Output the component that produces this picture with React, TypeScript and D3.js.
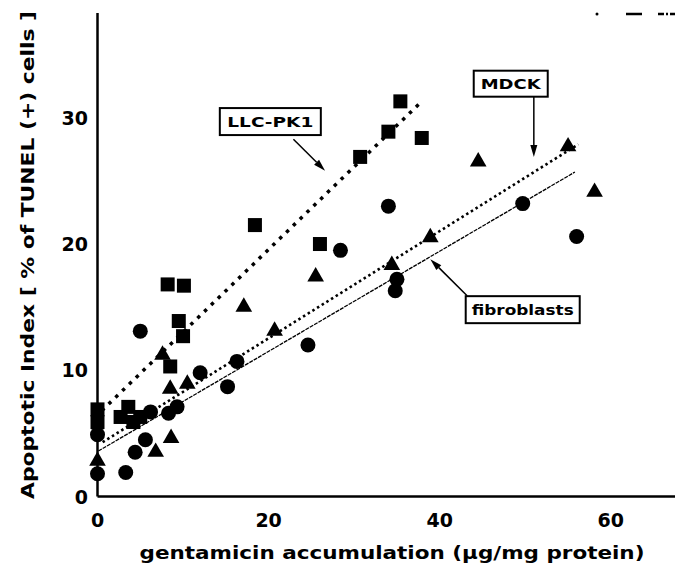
import React from "react";
import * as d3 from "d3";

// LLC-PK1 (squares)
const llcX = [0, 0, 2.7, 3.6, 5.0, 4.2, 8.5, 9.5, 10.0, 8.2, 10.1, 18.4, 26.0, 30.7, 34.0, 35.4, 37.9];
const llcY = [6.9, 5.9, 6.3, 7.1, 6.3, 5.9, 10.3, 13.9, 12.7, 16.8, 16.7, 21.5, 20.0, 26.9, 28.9, 31.3, 28.4];
// fibroblasts (circles)
const fibX = [0, 0, 3.3, 4.4, 5.6, 5.0, 6.2, 8.3, 9.3, 12.0, 15.2, 16.3, 24.6, 28.4, 34.0, 35.0, 34.8, 49.7, 56.0];
const fibY = [1.8, 4.9, 1.9, 3.5, 4.5, 13.1, 6.7, 6.6, 7.1, 9.8, 8.7, 10.7, 12.0, 19.5, 23.0, 17.2, 16.3, 23.2, 20.6];
// MDCK (triangles)
const mdckX = [0, 6.8, 8.6, 8.5, 10.5, 7.6, 17.1, 20.7, 25.5, 34.4, 38.9, 44.5, 55.0, 58.1];
const mdckY = [2.9, 3.6, 4.7, 8.6, 9.0, 11.3, 15.1, 13.2, 17.5, 18.4, 20.6, 26.6, 27.8, 24.2];

// regression lines [x0, y0, x1, y1]
const llcFit = [0.5, 6.8, 37.6, 31.1];
const mdckFit = [0.6, 4.3, 56.2, 27.9];
const fibFit = [0.1, 3.6, 55.8, 25.7];

const xTicks = [0, 20, 40, 60];
const yTicks = [0, 10, 20, 30];

const W = 675;
const H = 571;
const x = d3.scaleLinear().domain([0, 67.5]).range([97.5, 675]);
const y = d3.scaleLinear().domain([0, 38.3]).range([496.5, 13]);

const FONT = "'DejaVu Sans', sans-serif";

function Label({ cx, cy, w, h, text, tl }: { cx: number; cy: number; w: number; h: number; text: string; tl: number }) {
  const px = x(cx);
  const py = y(cy);
  return (
    <g>
      <rect x={px - w / 2} y={py - h / 2} width={w} height={h} fill="white" stroke="black" strokeWidth={2} />
      <text x={px} y={py + 5} textAnchor="middle" fontFamily={FONT} fontWeight="bold" fontSize={14} textLength={tl} lengthAdjust="spacingAndGlyphs">
        {text}
      </text>
    </g>
  );
}

function Arrow({ a, b }: { a: number[]; b: number[] }) {
  const x0 = x(a[0]), y0 = y(a[1]), x1 = x(b[0]), y1 = y(b[1]);
  const ang = Math.atan2(y1 - y0, x1 - x0);
  const L = 12, Wd = 3.5;
  const bx = x1 - L * Math.cos(ang), by = y1 - L * Math.sin(ang);
  const nx = -Math.sin(ang) * Wd, ny = Math.cos(ang) * Wd;
  return (
    <g>
      <line x1={x0} y1={y0} x2={bx} y2={by} stroke="black" strokeWidth={1.5} />
      <path d={`M${x1},${y1}L${bx + nx},${by + ny}L${bx - nx},${by - ny}Z`} fill="black" />
    </g>
  );
}

export default function App() {
  const sq = 14;
  const tri = d3.symbol().type(d3.symbolTriangle).size(120)() as string;
  return (
    <svg width={W} height={H} style={{ position: "absolute", left: 0, top: 0, background: "white" }}>
      <rect width={W} height={H} fill="white" />
      {/* partial legend at top right */}
      <circle cx={597} cy={14} r={1.5} fill="black" />
      <line x1={626} x2={642} y1={14} y2={14} stroke="black" strokeWidth={2.5} />
      <line x1={658} x2={675} y1={14} y2={14} stroke="black" strokeWidth={2.5} strokeDasharray="6,2,2,2" />

      {/* axes */}
      <line x1={x(0)} x2={x(0)} y1={y(38.3)} y2={y(0)} stroke="black" strokeWidth={2.5} />
      <line x1={x(0)} x2={W} y1={y(0)} y2={y(0)} stroke="black" strokeWidth={2.5} />
      {yTicks.map((t) => (
        <text key={"y" + t} x={88} y={y(t) + 7} textAnchor="end" fontFamily={FONT} fontWeight="bold" fontSize={19}>
          {t}
        </text>
      ))}
      {xTicks.map((t) => (
        <text key={"x" + t} x={x(t)} y={527} textAnchor="middle" fontFamily={FONT} fontWeight="bold" fontSize={19}>
          {t}
        </text>
      ))}
      <text transform={`translate(34,255) rotate(-90)`} textAnchor="middle" fontFamily={FONT} fontWeight="bold" fontSize={17} textLength={488} lengthAdjust="spacingAndGlyphs">
        Apoptotic Index [ % of TUNEL (+) cells ]
      </text>
      <text x={392} y={559} textAnchor="middle" fontFamily={FONT} fontWeight="bold" fontSize={18} textLength={505} lengthAdjust="spacingAndGlyphs">
        gentamicin accumulation (µg/mg protein)
      </text>

      {/* regression lines */}
      <line x1={x(fibFit[0])} y1={y(fibFit[1])} x2={x(fibFit[2])} y2={y(fibFit[3])} stroke="black" strokeWidth={1.3} strokeDasharray="4,1" />
      <line x1={x(mdckFit[0])} y1={y(mdckFit[1])} x2={x(mdckFit[2])} y2={y(mdckFit[3])} stroke="black" strokeWidth={2.6} strokeDasharray="2.5,3" />
      <line x1={x(llcFit[0])} y1={y(llcFit[1])} x2={x(llcFit[2])} y2={y(llcFit[3])} stroke="black" strokeWidth={3.5} strokeDasharray="3.5,6" />

      {/* points */}
      {llcX.map((v, i) => (
        <rect key={"s" + i} x={x(v) - sq / 2} y={y(llcY[i]) - sq / 2} width={sq} height={sq} fill="black" />
      ))}
      {fibX.map((v, i) => (
        <circle key={"c" + i} cx={x(v)} cy={y(fibY[i])} r={7.5} fill="black" />
      ))}
      {mdckX.map((v, i) => (
        <path key={"t" + i} d={tri} transform={`translate(${x(v)},${y(mdckY[i]) + 1})`} fill="black" />
      ))}

      {/* annotations */}
      <Arrow a={[22.9, 28.3]} b={[26.6, 25.8]} />
      <Label cx={20.2} cy={29.7} w={101} h={27} text="LLC-PK1" tl={86} />
      <Arrow a={[51.0, 31.7]} b={[51.0, 26.9]} />
      <Label cx={48.3} cy={32.7} w={74} h={26} text="MDCK" tl={60} />
      <Arrow a={[43.2, 15.9]} b={[38.9, 18.8]} />
      <Label cx={49.7} cy={14.8} w={114} h={27} text="fibroblasts" tl={102} />
    </svg>
  );
}
